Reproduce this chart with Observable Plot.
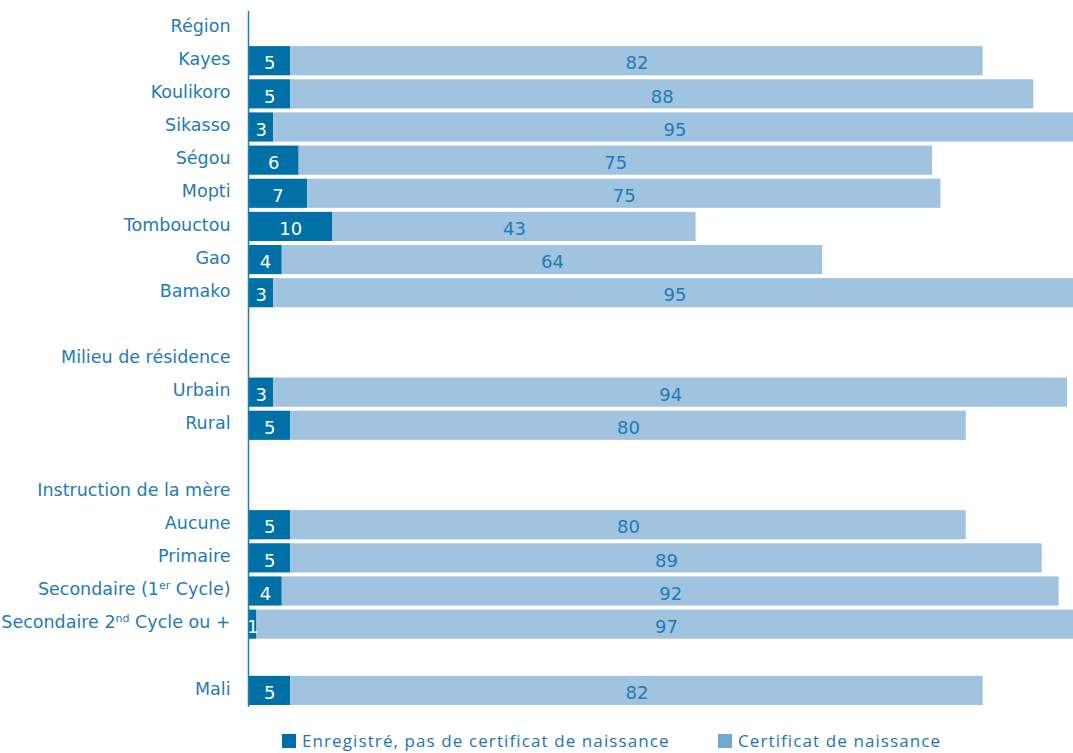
<!DOCTYPE html>
<html>
<head>
<meta charset="utf-8">
<script src="https://cdn.jsdelivr.net/npm/d3@7"></script>
<script src="https://cdn.jsdelivr.net/npm/@observablehq/plot@0.6"></script>
<style>
  body { margin: 0; background: #fff; }
  #chart { width: 1073px; }
  .legend { font-family: "Open Sans", sans-serif; font-size: 17px; letter-spacing: 1.1px; color: #1a76b0; position: relative; height: 26px; margin-top: 9px; }
  .legend .item { display: flex; align-items: center; position: absolute; top: 0; }
  .legend .sw { width: 14px; height: 14px; margin-right: 6px; }
</style>
</head>
<body>
<div id="chart"></div>
<script>
// Row keys (blank rows get unique keys), with "^...^" marking superscripts
const categories = ["Région","Kayes","Koulikoro","Sikasso","Ségou","Mopti","Tombouctou","Gao","Bamako","_b1",
  "Milieu de résidence","Urbain","Rural","_b2",
  "Instruction de la mère","Aucune","Primaire","Secondaire (1^er^ Cycle)","Secondaire 2^nd^ Cycle ou +","_b3",
  "Mali"];
const registered  = [null,5,5,3,6,7,10,4,3,null,null,3,5,null,null,5,5,4,1,null,5];
const certificate = [null,82,88,95,75,75,43,64,95,null,null,94,80,null,null,80,89,92,97,null,82];
const seriesNames = ["Enregistré, pas de certificat de naissance","Certificat de naissance"];

const darkC = "#0070a6", lightC = "#a0c3df", textC = "#1f7bb6";
const FONT = "DejaVu Sans, sans-serif";

const rows = categories.map((c, i) => ({cat: c, reg: registered[i], cert: certificate[i]}));
const bars = [];
rows.forEach(r => {
  if (r.reg != null) {
    bars.push({cat: r.cat, series: seriesNames[0], x1: 0, x2: r.reg, v: r.reg});
    bars.push({cat: r.cat, series: seriesNames[1], x1: r.reg, x2: r.reg + r.cert, v: r.cert});
  }
});

const fmt = d => d.startsWith("_b") ? "" : d;

const chart = Plot.plot({
  width: 1073,
  height: 720,
  marginLeft: 248,
  marginRight: 0,
  marginTop: 11,
  marginBottom: 13,
  style: {fontFamily: FONT, fontSize: "17.5px", color: textC},
  x: {domain: [0, 97.7], axis: null, clamp: true},
  y: {domain: categories, paddingInner: 0.12, paddingOuter: 0.06, round: false, label: null, tickFormat: fmt},
  color: {domain: seriesNames, range: [darkC, lightC]},
  marks: [
    Plot.axisY({tickSize: 0, tickPadding: 18, fontSize: 17.5, fill: textC, label: null, dy: -2, tickFormat: fmt}),
    Plot.barX(bars, {y: "cat", x1: "x1", x2: "x2", fill: "series"}),
    Plot.text(bars.filter(d => d.series === seriesNames[0]), {
      y: "cat", x: d => (d.x1 + d.x2) / 2, text: d => String(d.v), fill: "white", fontSize: 18, dy: 2.5}),
    Plot.text(bars.filter(d => d.series === seriesNames[1]), {
      y: "cat", x: d => (d.x1 + d.x2) / 2, text: d => String(d.v), fill: textC, fontSize: 18, dy: 2.5}),
    Plot.ruleX([0], {stroke: textC, strokeWidth: 1.5})
  ]
});

// superscripts in tick labels
d3.select(chart).selectAll("text").each(function() {
  const t = this.textContent;
  if (!t.includes("^")) return;
  const parts = t.split("^");
  const el = d3.select(this);
  el.text(null);
  parts.forEach((p, i) => {
    if (i % 2 === 1) {
      el.append("tspan").attr("font-size", 11).attr("dy", -6).text(p);
    } else {
      const ts = el.append("tspan").text(p);
      if (i > 0) ts.attr("dy", 6);
    }
  });
});

document.getElementById("chart").appendChild(chart);

// legend
const legend = document.createElement("div");
legend.className = "legend";
const legendPos = [282, 718];
const swC = ["#006ea8", "#6fa8d0"];
seriesNames.forEach((name, i) => {
  const it = document.createElement("div");
  it.className = "item";
  it.style.left = legendPos[i] + "px";
  it.innerHTML = `<span class="sw" style="background:${swC[i]}"></span><span>${name}</span>`;
  legend.appendChild(it);
});
document.body.appendChild(legend);
</script>
</body>
</html>
